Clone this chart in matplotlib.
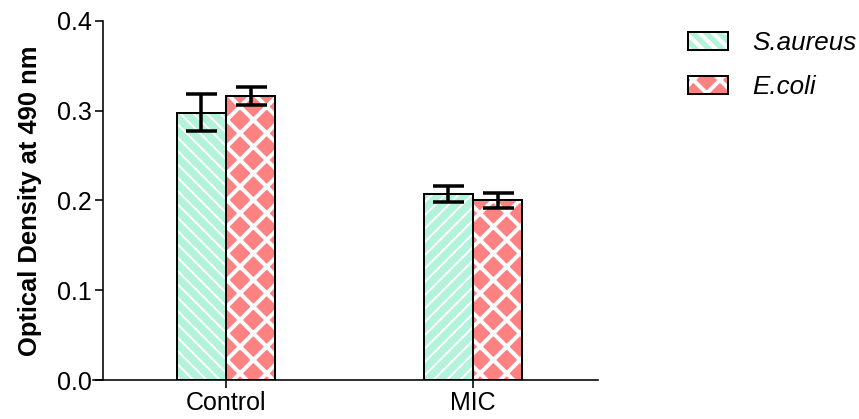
import matplotlib
matplotlib.use("Agg")
import matplotlib.pyplot as plt
import numpy as np
from matplotlib.patches import Patch
from matplotlib.legend_handler import HandlerTuple

# ── Data ─────────────────────────────────────────────────────────────────────
groups = ["Control", "MIC"]
species = ["S.aureus", "E.coli"]
saureus_mean = [0.298, 0.207]
saureus_err = [0.021, 0.009]
ecoli_mean = [0.316, 0.200]
ecoli_err = [0.010, 0.008]

# ── Style ────────────────────────────────────────────────────────────────────
DPI = 80
W, H = 859, 419
MINT = "#B3F3DC"
SALMON = "#FF8282"


def pt(px):
    return px * 72 / DPI


plt.rcParams["font.family"] = ["Liberation Sans", "DejaVu Sans"]

fig = plt.figure(figsize=(W / DPI, H / DPI), dpi=DPI, facecolor="white")
ax = fig.add_axes([93 / W, 39 / H, 505 / W, 359 / H])

x = np.arange(len(groups))
bw = 0.2

# S.aureus: mint with white diagonal stripes
plt.rcParams["hatch.linewidth"] = pt(2)
b1 = ax.bar(x - bw / 2, saureus_mean, bw, color=MINT, edgecolor="white",
            linewidth=0, zorder=2)
for p, h in zip(b1, ["\\\\", "//"]):
    p.set_hatch(h)
ax.bar(x - bw / 2, saureus_mean, bw, fill=False, edgecolor="black",
       linewidth=pt(2), zorder=3)

# E.coli: salmon with white cross-hatch
plt.rcParams["hatch.linewidth"] = pt(4)
ax.bar(x + bw / 2, ecoli_mean, bw, color=SALMON, edgecolor="white",
       hatch="x", linewidth=0, zorder=2)
ax.bar(x + bw / 2, ecoli_mean, bw, fill=False, edgecolor="black",
       linewidth=pt(2), zorder=3)

err_kw = dict(fmt="none", ecolor="black", elinewidth=pt(3.5),
              capsize=pt(15.5), capthick=pt(3.5), zorder=4)
ax.errorbar(x - bw / 2, saureus_mean, yerr=saureus_err, **err_kw)
ax.errorbar(x + bw / 2, ecoli_mean, yerr=ecoli_err, **err_kw)

# ── Axes ─────────────────────────────────────────────────────────────────────
ax.set_xlim(-0.5385, 1.506)
ax.set_ylim(0, 0.4)
ax.set_yticks([0.0, 0.1, 0.2, 0.3, 0.4])
ax.set_yticklabels(["0.0", "0.1", "0.2", "0.3", "0.4"])
ax.set_xticks(x)
ax.set_xticklabels(groups)
ax.spines[["top", "right"]].set_visible(False)
ax.spines["left"].set_position(("data", -0.5))
for s in ["left", "bottom"]:
    ax.spines[s].set_linewidth(pt(1.6))
ax.tick_params(axis="both", direction="out", length=pt(8), width=pt(1.6),
               labelsize=pt(25), pad=pt(3), colors="black")

fig.text(30 / W, 1 - 201 / H, "Optical Density at 490 nm", rotation=90,
         ha="center", va="center", fontsize=pt(25.5), fontweight="bold")

# ── Legend ───────────────────────────────────────────────────────────────────
plt.rcParams["hatch.linewidth"] = pt(2)
h1 = (Patch(facecolor=MINT, edgecolor="white", hatch="\\\\", linewidth=0),
      Patch(fill=False, edgecolor="black", linewidth=pt(2)))
plt.rcParams["hatch.linewidth"] = pt(4)
h2 = (Patch(facecolor=SALMON, edgecolor="white", hatch="x", linewidth=0),
      Patch(fill=False, edgecolor="black", linewidth=pt(2)))
fig.legend([h1, h2], species, handler_map={tuple: HandlerTuple(ndivide=1, pad=0)},
           loc="upper left", bbox_to_anchor=(688 / W, 1 - 31 / H),
           frameon=False, borderpad=0, borderaxespad=0,
           prop={"style": "italic", "size": pt(26)},
           handlelength=1.54, handleheight=0.69, handletextpad=0.92,
           labelspacing=0.78)

fig.savefig("out.png", dpi=DPI, facecolor="white")
